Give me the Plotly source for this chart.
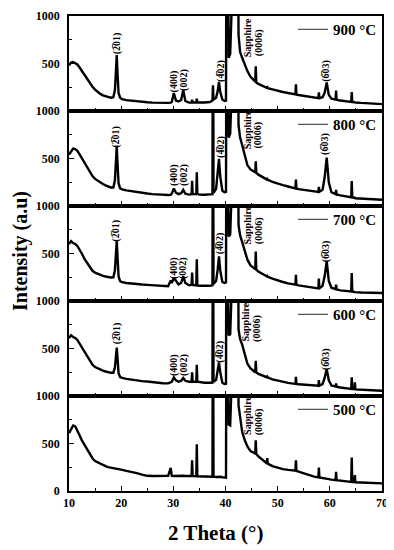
import plotly.graph_objects as go
from plotly.subplots import make_subplots

# ---------------- data ----------------
two_theta = [
    10.0, 10.4, 10.8, 11.2, 11.6, 12.0, 12.5, 13.0, 13.5, 14.0,
    14.5, 15.0, 15.5, 16.0, 16.5, 17.0, 17.5, 18.0, 18.5, 18.8,
    19.0, 19.15, 19.3, 19.5, 19.8, 20.2, 21.0, 22.0, 23.0, 24.0,
    25.0, 26.0, 27.0, 28.0, 29.0, 29.5, 29.7, 30.1, 30.5, 31.0,
    31.5, 31.9, 32.3, 33.0, 33.5, 33.6, 33.7, 34.4, 34.5, 34.6,
    35.0, 36.0, 37.0, 37.5, 37.6, 37.7, 38.2, 38.5, 38.75, 39.0,
    39.4, 39.8, 40.1, 40.2, 40.45, 40.6, 40.9, 41.2, 41.4, 42.3,
    42.5, 42.8, 43.2, 43.7, 44.2, 44.8, 45.4, 45.7, 45.8, 45.9,
    46.3, 47.0, 47.9, 48.0, 48.1, 49.0, 50.0, 51.0, 52.0, 53.0,
    53.4, 53.5, 53.6, 54.0, 55.0, 56.0, 57.0, 57.8, 57.9, 58.0,
    58.6, 59.0, 59.4, 59.8, 60.3, 61.1, 61.2, 61.3, 62.0, 63.0,
    64.1, 64.2, 64.3, 64.7, 64.8, 64.9, 66.0, 67.0, 68.0, 69.0,
    70.0,
]

int_900 = [
    480, 510, 515, 505, 490, 460, 420, 375, 330, 290,
    255, 225, 200, 180, 165, 155, 145, 140, 145, 220,
    420, 590, 400, 190, 140, 125, 115, 108, 100, 95,
    92, 88, 85, 85, 85, 88, 95, 190, 110, 100,
    115, 220, 105, 88, 90, 120, 90, 90, 130, 90,
    88, 90, 95, 110, 270, 120, 140, 210, 305, 200,
    120, 105, 110, 3000, 3000, 560, 600, 850, 3000, 3000,
    800, 620, 560, 480, 420, 360, 320, 310, 470, 300,
    285, 265, 245, 250, 240, 228, 212, 200, 190, 180,
    175, 280, 172, 168, 158, 150, 140, 135, 195, 135,
    145, 190, 300, 170, 130, 120, 215, 118, 110, 100,
    95, 200, 95, 92, 95, 90, 85, 80, 78, 75,
    72,
]

int_800 = [
    540, 580, 605, 600, 580, 545, 500, 450, 400, 355,
    315, 285, 265, 250, 232, 218, 205, 195, 195, 270,
    470, 635, 450, 240, 185, 175, 165, 155, 145, 138,
    132, 125, 120, 117, 115, 118, 130, 185, 140, 125,
    135, 170, 130, 120, 125, 265, 125, 125, 355, 125,
    120, 118, 120, 125, 3000, 140, 180, 330, 495, 310,
    160, 145, 150, 3000, 3000, 720, 760, 950, 3000, 3000,
    850, 720, 640, 530, 430, 385, 360, 355, 470, 350,
    330, 305, 280, 285, 275, 255, 235, 220, 205, 190,
    185, 277, 183, 178, 168, 160, 152, 148, 200, 150,
    170, 300, 510, 250, 145, 125, 170, 122, 112, 100,
    92, 262, 92, 85, 88, 82, 78, 74, 70, 68,
    65,
]

int_700 = [
    600, 630, 610, 600, 580, 545, 495, 440, 395, 350,
    318, 298, 285, 275, 265, 258, 252, 248, 250, 320,
    500, 640, 470, 260, 210, 198, 190, 183, 178, 174,
    170, 165, 160, 156, 155, 215, 190, 245, 210, 175,
    190, 258, 190, 165, 170, 300, 170, 165, 440, 165,
    160, 158, 160, 165, 3000, 180, 210, 330, 470, 320,
    200, 190, 195, 3000, 3000, 680, 700, 900, 3000, 3000,
    800, 690, 620, 520, 435, 375, 345, 335, 520, 330,
    310, 285, 260, 265, 255, 235, 215, 200, 185, 175,
    172, 277, 170, 165, 155, 145, 138, 132, 235, 132,
    160, 260, 420, 210, 140, 125, 172, 122, 112, 105,
    100, 294, 100, 95, 98, 93, 90, 88, 86, 85,
    85,
]

int_600 = [
    610, 640, 620, 610, 590, 555, 505, 455, 410, 365,
    330, 305, 290, 280, 268, 258, 250, 245, 245, 300,
    420, 510, 400, 240, 200, 190, 180, 170, 162, 156,
    152, 145, 138, 135, 133, 140, 150, 196, 165, 150,
    160, 189, 160, 150, 152, 248, 150, 150, 328, 150,
    145, 140, 140, 142, 3000, 150, 170, 260, 353, 250,
    140, 127, 130, 3000, 3000, 640, 650, 880, 3000, 3000,
    700, 600, 540, 430, 340, 290, 262, 250, 370, 248,
    232, 215, 198, 205, 195, 175, 160, 148, 138, 130,
    128, 203, 127, 123, 118, 114, 110, 108, 168, 108,
    125, 190, 283, 165, 110, 100, 133, 98, 90, 80,
    75, 196, 75, 72, 143, 70, 65, 62, 60, 58,
    56,
]

int_500 = [
    610, 650, 690, 680, 640, 590, 530, 480, 435, 390,
    345, 315, 300, 289, 275, 262, 252, 245, 240, 238,
    237, 236, 234, 232, 228, 222, 212, 202, 188, 172,
    160, 158, 158, 160, 160, 244, 160, 158, 160, 160,
    162, 160, 158, 158, 160, 324, 158, 155, 492, 155,
    155, 152, 150, 150, 3000, 150, 148, 150, 148, 150,
    145, 140, 140, 3000, 3000, 700, 690, 900, 3000, 3000,
    900, 760, 620, 534, 470, 420, 398, 394, 534, 390,
    365, 330, 292, 345, 288, 262, 242, 230, 222, 220,
    215, 324, 212, 205, 185, 165, 152, 143, 248, 142,
    135, 130, 128, 125, 120, 115, 202, 113, 108, 100,
    95, 352, 95, 93, 167, 92, 88, 85, 83, 81,
    80,
]

series = [int_900, int_800, int_700, int_600, int_500]
temperatures = ["900 °C", "800 °C", "700 °C", "600 °C", "500 °C"]

x_ticks = [10, 20, 30, 40, 50, 60, 70]
x_minor = [15, 25, 35, 45, 55, 65]

# peak labels: (panel index, 2theta, intensity, text)
B2 = "(2\u030501)"
B4 = "(4\u030502)"
B6 = "(6\u030503)"
peak_panel = [0, 0, 0, 0, 0, 0, 0,
              1, 1, 1, 1, 1, 1, 1,
              2, 2, 2, 2, 2, 2, 2,
              3, 3, 3, 3, 3, 3, 3,
              4, 4]
peak_pos = [19.1, 30.1, 31.9, 39.0, 44.2, 46.3, 59.2,
            19.1, 30.0, 31.9, 39.0, 44.2, 46.3, 59.2,
            19.1, 30.0, 31.9, 39.0, 44.2, 46.3, 59.2,
            19.1, 30.0, 31.9, 39.0, 43.8, 46.0, 59.3,
            44.2, 46.4]
peak_int = [718, 310, 330, 425, 770, 718, 420,
            734, 330, 330, 625, 802, 745, 650,
            745, 350, 350, 610, 799, 739, 520,
            665, 330, 330, 470, 777, 715, 390,
            795, 733]
peak_text = [B2, "(400)", "(002)", B4, "Sapphire", "(0006)", B6,
             B2, "(400)", "(002)", B4, "Sapphire", "(0006)", B6,
             B2, "(400)", "(002)", B4, "Sapphire", "(0006)", B6,
             B2, "(400)", "(002)", B4, "Sapphire", "(0006)", B6,
             "Sapphire", "(0006)"]

# ---------------- figure ----------------
SERIF = "Liberation Serif"
fig = make_subplots(rows=5, cols=1, shared_xaxes=True, vertical_spacing=0)

legend_names = ["legend", "legend2", "legend3", "legend4", "legend5"]
for i, (ys, name) in enumerate(zip(series, temperatures)):
    fig.add_trace(
        go.Scatter(x=two_theta, y=ys, mode="lines", name=name,
                   line=dict(color="black", width=2.4),
                   showlegend=False),
        row=i + 1, col=1)
    # legend entry (thin grey sample line as in the reference)
    fig.add_trace(
        go.Scatter(x=[None], y=[None], mode="lines", name=name,
                   line=dict(color="#555555", width=1.3),
                   legend=legend_names[i], showlegend=True),
        row=i + 1, col=1)

axis_common = dict(showline=True, linecolor="black", linewidth=1.5,
                   mirror=True, ticks="inside", tickcolor="black",
                   showgrid=False, zeroline=False, automargin=False)

for i in range(5):
    fig.update_xaxes(range=[10, 70], tickvals=x_ticks, ticklen=5, tickwidth=1.2,
                     minor=dict(tickvals=x_minor, ticks="inside", ticklen=3,
                                tickcolor="black", tickwidth=1.2),
                     showticklabels=(i == 4),
                     tickfont=dict(family=SERIF, size=12, color="black", weight="bold"),
                     row=i + 1, col=1, **axis_common)
    fig.update_yaxes(range=[0, 1000],
                     tickvals=[0, 500, 1000] if i == 4 else [500, 1000],
                     ticklen=5, tickwidth=1.2, ticklabelstandoff=5,
                     minor=dict(tickvals=[250, 750], ticks="inside", ticklen=3,
                                tickcolor="black", tickwidth=1.2),
                     tickfont=dict(family=SERIF, size=12, color="black", weight="bold"),
                     row=i + 1, col=1, **axis_common)

# legends, one per panel
layout_legends = {}
for i, ln in enumerate(legend_names):
    layout_legends[ln] = dict(
        x=1.0, xanchor="right", y=1 - 0.2 * i + 0.006, yanchor="top",
        bgcolor="rgba(0,0,0,0)", borderwidth=0,
        font=dict(family=SERIF, size=15, color="black", weight="bold"),
        itemwidth=30, tracegroupgap=0)
fig.update_layout(**layout_legends)

# peak labels
for p, xx, yy, tt in zip(peak_panel, peak_pos, peak_int, peak_text):
    suffix = "" if p == 0 else str(p + 1)
    fig.add_annotation(x=xx, y=yy, xref="x" + suffix, yref="y" + suffix,
                       text=tt, textangle=-90, showarrow=False,
                       xanchor="center", yanchor="middle",
                       font=dict(family=SERIF, size=10, color="black",
                                 weight="bold"))

# axis titles
fig.add_annotation(x=-0.157, y=0.505, xref="paper", yref="paper",
                   xanchor="center", yanchor="middle",
                   text="Intensity (a.u)", textangle=-90, showarrow=False,
                   font=dict(family=SERIF, size=20, color="black", weight="bold"))
fig.add_annotation(x=0.47, y=-0.088, xref="paper", yref="paper",
                   xanchor="center", yanchor="middle",
                   text="2 Theta (°)", showarrow=False,
                   font=dict(family=SERIF, size=21, color="black", weight="bold"))

# the page body adds an 8 px offset, so the figure is 8 px smaller on each axis
fig.update_layout(width=386, height=542, template="none",
                  margin=dict(l=61, r=12, t=5, b=59),
                  paper_bgcolor="white", plot_bgcolor="white",
                  font=dict(family=SERIF, color="black"))

fig.write_html("out.html")
